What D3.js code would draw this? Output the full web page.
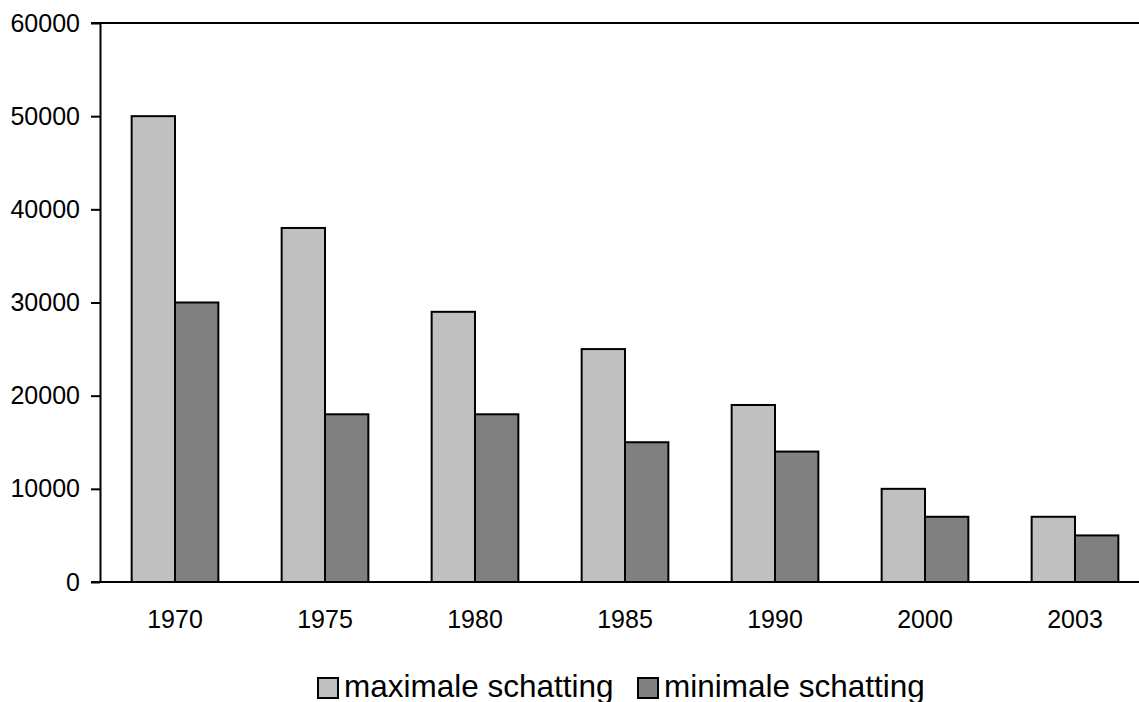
<!DOCTYPE html>
<html><head><meta charset="utf-8">
<script src="https://cdn.jsdelivr.net/npm/d3@7"></script>
<style>body{margin:0;background:#fff}svg{display:block}text{font-family:"Liberation Sans",Arial,sans-serif;fill:#000}</style>
</head><body>
<script>
const categories = ["1970","1975","1980","1985","1990","2000","2003"];
const seriesNames = ["maximale schatting","minimale schatting"];
const maxValues = [50000,38000,29000,25000,19000,10000,7000];
const minValues = [30000,18000,18000,15000,14000,7000,5000];
const yTicks = [0,10000,20000,30000,40000,50000,60000];
const colors = ["#c0c0c0","#808080"];

const W=1139,H=702;
const svg=d3.select("body").append("svg").attr("width",W).attr("height",H);
const x=d3.scaleBand().domain(categories).range([100,1150]);
const x1=d3.scaleBand().domain(seriesNames).range([0,x.bandwidth()]).paddingOuter(0.73);
const y=d3.scaleLinear().domain([0,60000]).range([582,23]);
const color=d3.scaleOrdinal().domain(seriesNames).range(colors);

const data=categories.map((c,i)=>({cat:c,vals:[{k:seriesNames[0],v:maxValues[i]},{k:seriesNames[1],v:minValues[i]}]}));

// bars
const g=svg.append("g");
g.selectAll("g.cat").data(data).join("g").attr("transform",d=>`translate(${x(d.cat)},0)`)
 .selectAll("rect").data(d=>d.vals).join("rect")
 .attr("x",d=>x1(d.k)).attr("width",x1.bandwidth())
 .attr("y",d=>y(d.v)).attr("height",d=>y(0)-y(d.v))
 .attr("fill",d=>color(d.k)).attr("stroke","#000").attr("stroke-width",2);

// top line
svg.append("line").attr("x1",91).attr("x2",W).attr("y1",y(60000)).attr("y2",y(60000)).attr("stroke","#000").attr("stroke-width",2);
// bottom line
svg.append("line").attr("x1",91).attr("x2",W).attr("y1",y(0)).attr("y2",y(0)).attr("stroke","#000").attr("stroke-width",2);

// y axis
const ya=svg.append("g").attr("transform","translate(100,0)")
 .call(d3.axisLeft(y).tickValues(yTicks).tickSize(9).tickSizeOuter(0).tickPadding(11).tickFormat(d3.format("d")));
ya.select(".domain").attr("stroke","#000").attr("stroke-width",2);
ya.selectAll(".tick line").attr("stroke","#000").attr("stroke-width",2);
ya.selectAll(".tick text").style("font-size","25px").style("font-family","Liberation Sans, Arial, sans-serif").attr("fill","#000");

// x axis labels
const xa=svg.append("g").attr("transform",`translate(0,${y(0)})`)
 .call(d3.axisBottom(x).tickSize(0).tickPadding(28));
xa.select(".domain").remove();
xa.selectAll(".tick text").style("font-size","25px").style("font-family","Liberation Sans, Arial, sans-serif").attr("fill","#000");

// legend
const legendX=[318,638];
const lg=svg.append("g");
seriesNames.forEach((s,i)=>{
  lg.append("rect").attr("x",legendX[i]).attr("y",678).attr("width",20).attr("height",20)
    .attr("fill",colors[i]).attr("stroke","#000").attr("stroke-width",2);
  lg.append("text").attr("x",legendX[i]+26).attr("y",697).style("font-size","31.5px").text(s);
});
</script>
</body></html>
